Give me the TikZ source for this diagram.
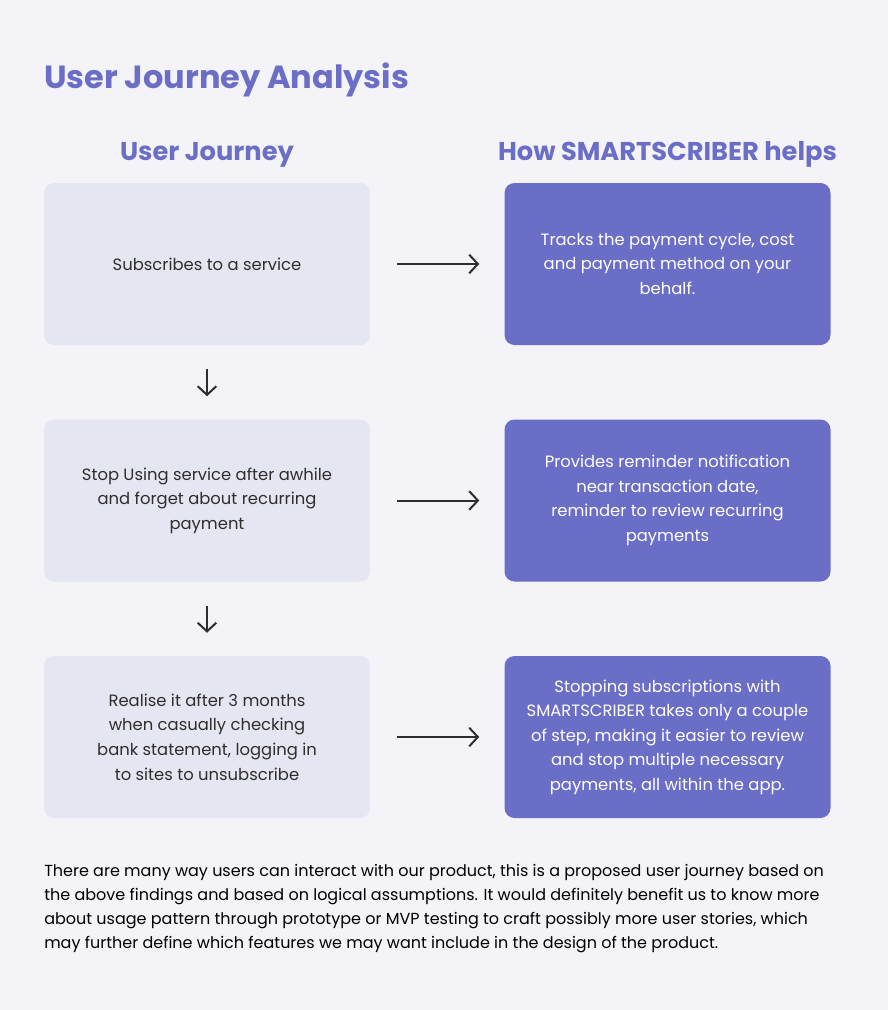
\documentclass[tikz,border=0pt]{standalone}
\usepackage{fontspec}
\setmainfont{Poppins}
\usetikzlibrary{arrows.meta}
\definecolor{page}{HTML}{F4F3F8}
\definecolor{brand}{HTML}{6B6EC6}
\definecolor{pale}{HTML}{E6E6F2}
\definecolor{ink}{HTML}{2E2E2E}
\tikzset{
  >={Straight Barb[length=6.5pt,width=14pt]},
  boxtext/.style={font=\fontsize{12.3}{18.4}\selectfont, align=center, inner sep=0pt},
  userbox/.style={boxtext, fill=pale, text=ink, rounded corners=7.5pt,
    minimum width=244.5pt, minimum height=121.5pt},
  helpbox/.style={boxtext, fill=brand, text=white, rounded corners=7.5pt,
    minimum width=244.5pt, minimum height=121.5pt},
  colhead/.style={font=\fontsize{19.3}{23}\selectfont\bfseries, text=brand, inner sep=0pt},
  flow/.style={->, ink, line width=1.5pt},
}

\begin{document}
\begin{tikzpicture}[x=0.75pt, y=-0.75pt]

% page, 888 x 1010 px
\fill[page] (0,0) rectangle (888,1010);
\useasboundingbox (0,0) rectangle (888,1010);

\node[font=\fontsize{24}{29}\selectfont\bfseries, text=brand, anchor=base west, inner sep=0pt]
  (title) at (44,88) {User Journey Analysis};

% ---------------- column heads ----------------
\node[colhead, anchor=base] (jhead) at (207,160) {User Journey};
\node[colhead, anchor=base] (hhead) at (667.5,160) {How SMARTSCRIBER helps};

% ---------------- user journey (left) ----------------
\node[userbox] (u1) at (207,264) {Subscribes to a service};
\node[userbox] (u2) at (207,500.5) {Stop Using service after awhile\\and forget about recurring\\payment};
\node[userbox] (u3) at (207,737) {Realise it after 3 months\\when casually checking\\bank statement, logging in\\to sites to unsubscribe};

% ---------------- how it helps (right) ----------------
\node[helpbox] (h1) at (667.5,264) {Tracks the payment cycle, cost\\and payment method on your\\behalf.};
\node[helpbox] (h2) at (667.5,500.5) {Provides reminder notification\\near transaction date,\\reminder to review recurring\\payments};
\node[helpbox] (h3) at (667.5,737) {Stopping subscriptions with\\SMARTSCRIBER takes only a couple\\of step, making it easier to review\\and stop multiple necessary\\payments, all within the app.};

% ---------------- arrows ----------------
\foreach \i in {1,2,3} {
  \draw[flow, shorten <=20.25pt, shorten >=18.75pt] (u\i.east) -- (h\i.west);
}
\draw[flow, shorten <=18pt, shorten >=17.25pt] (u1.south) -- (u2.north);
\draw[flow, shorten <=18pt, shorten >=17.25pt] (u2.south) -- (u3.north);

% ---------------- closing note ----------------
\node[font=\fontsize{12}{18}\selectfont, text=black, align=left, anchor=north west, inner sep=0pt]
  (note) at (44,864) {There are many way users can interact with our product, this is a proposed user journey based on\\
  the above findings and based on logical assumptions. It would definitely benefit us to know more\\
  about usage pattern through prototype or MVP testing to craft possibly more user stories, which\\
  may further define which features we may want include in the design of the product.};

\end{tikzpicture}
\end{document}
